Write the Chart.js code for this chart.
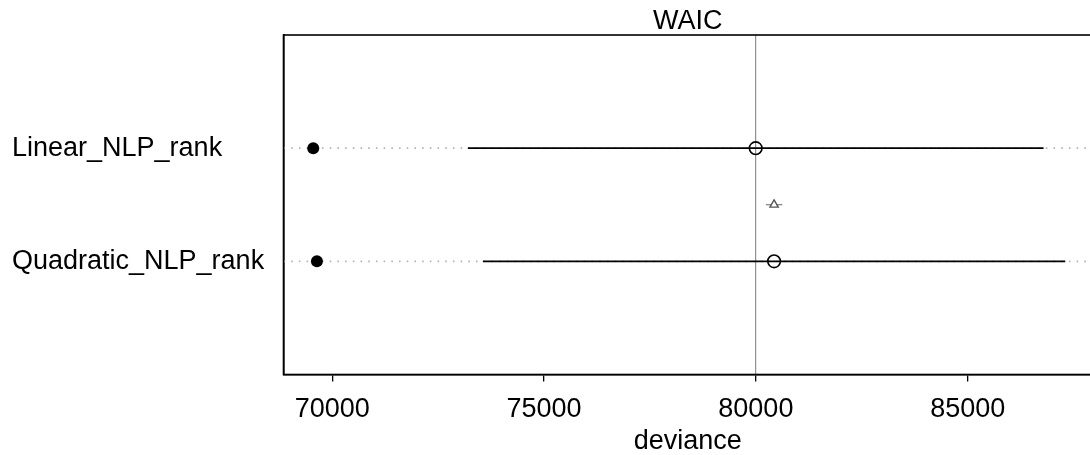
<!DOCTYPE html>
<html>
<head>
  <title>WAIC</title>
  <script src="https://cdn.jsdelivr.net/npm/chart.js"></script>
  <style>
    html, body { margin: 0; padding: 0; overflow: hidden; background: #fff; }
  </style>
</head>
<body>
  <canvas id="chart" width="1100" height="455"></canvas>

  <script>
    // valori
    const models = ["Linear_NLP_rank", "Quadratic_NLP_rank"];
    const rowY = [2, 1];
    const waic = [79996, 80430];
    const se = [6794, 6873];
    const inSample = [69553, 69640];
    const dSE = [null, 195];
    const xTicks = [70000, 75000, 80000, 85000];
    const xMin = 68851;
    const xMax = 87936;
    const titleText = "WAIC";
    const xTitle = "deviance";

    const font = "'Liberation Sans', Arial, Helvetica, sans-serif";
    const bestWaic = Math.min(...waic);

    const datasets = [];

    // linia verticala la cel mai mic WAIC
    datasets.push({
      data: [{ x: bestWaic, y: 0 }, { x: bestWaic, y: 3 }],
      showLine: true, borderColor: "#7a7a7a", borderWidth: 1, pointRadius: 0, order: 5
    });

    for (let i = 0; i < models.length; i++) {
      const y = rowY[i];
      // linia punctata
      datasets.push({
        data: [{ x: xMin, y: y }, { x: xMax, y: y }],
        showLine: true, borderColor: "#b4b4b4", borderWidth: 1.6, borderDash: [1.6, 6.1],
        pointRadius: 0, order: 4
      });
      // intervalul WAIC
      datasets.push({
        data: [{ x: waic[i] - se[i], y: y }, { x: waic[i] + se[i], y: y }],
        showLine: true, borderColor: "#000", borderWidth: 1.6, pointRadius: 0, order: 3
      });
      // deviatia in-sample
      datasets.push({
        data: [{ x: inSample[i], y: y }],
        pointStyle: "circle", pointRadius: 6, backgroundColor: "#000", borderColor: "#000",
        borderWidth: 0, order: 1
      });
      // WAIC
      datasets.push({
        data: [{ x: waic[i], y: y }],
        pointStyle: "circle", pointRadius: 6.3, backgroundColor: "rgba(0,0,0,0)",
        borderColor: "#000", borderWidth: 1.6, order: 1
      });
      // diferenta fata de cel mai bun model
      if (dSE[i] !== null) {
        datasets.push({
          data: [{ x: waic[i] - dSE[i], y: y + 0.5 }, { x: waic[i] + dSE[i], y: y + 0.5 }],
          showLine: true, borderColor: "#666", borderWidth: 1.2, pointRadius: 0, order: 2
        });
        datasets.push({
          data: [{ x: waic[i], y: y + 0.5 }],
          pointStyle: "triangle", pointRadius: 4.8, backgroundColor: "#fff",
          borderColor: "#555", borderWidth: 1.4, order: 1
        });
      }
    }

    const framePlugin = {
      id: "frame",
      afterDraw(chart) {
        const ctx = chart.ctx;
        const a = chart.chartArea;
        ctx.save();
        ctx.strokeStyle = "#000";
        ctx.lineWidth = 1.6;
        ctx.strokeRect(a.left, a.top, a.right - a.left, a.bottom - a.top);
        ctx.fillStyle = "#000";
        ctx.font = "27px " + font;
        ctx.textAlign = "center";
        ctx.textBaseline = "alphabetic";
        ctx.fillText(titleText, (a.left + a.right) / 2, 28.5);
        ctx.restore();
      }
    };

    new Chart(document.getElementById("chart"), {
      type: "scatter",
      data: { datasets: datasets },
      options: {
        responsive: false,
        animation: false,
        devicePixelRatio: 1,
        layout: { padding: { left: 12, top: 35, right: 6, bottom: 0 } },
        plugins: { legend: { display: false }, tooltip: { enabled: false } },
        scales: {
          x: {
            type: "linear", min: xMin, max: xMax,
            afterBuildTicks: s => { s.ticks = xTicks.map(v => ({ value: v })); },
            afterFit: s => { s.height = 80.5; },
            grid: { display: true, drawOnChartArea: false, drawTicks: true, tickLength: 7, color: "#000", lineWidth: 1.3 },
            border: { display: true, color: "#000", width: 1.6 },
            ticks: { color: "#000", font: { size: 27, family: font }, padding: 12, maxRotation: 0, autoSkip: false,
              callback: v => String(v) },
            title: { display: true, text: xTitle, color: "#000", font: { size: 27, family: font, lineHeight: 1 },
              padding: { top: 0, bottom: 0 } }
          },
          y: {
            type: "linear", min: 0, max: 3,
            afterBuildTicks: s => { s.ticks = rowY.map(v => ({ value: v })); },
            afterFit: s => { s.width = 271.5; },
            grid: { display: false },
            border: { display: true, color: "#000", width: 1.6 },
            ticks: { color: "#000", font: { size: 27, family: font }, crossAlign: "far", padding: 0,
              callback: v => models[rowY.indexOf(v)] }
          }
        }
      },
      plugins: [framePlugin]
    });
  </script>
</body>
</html>
